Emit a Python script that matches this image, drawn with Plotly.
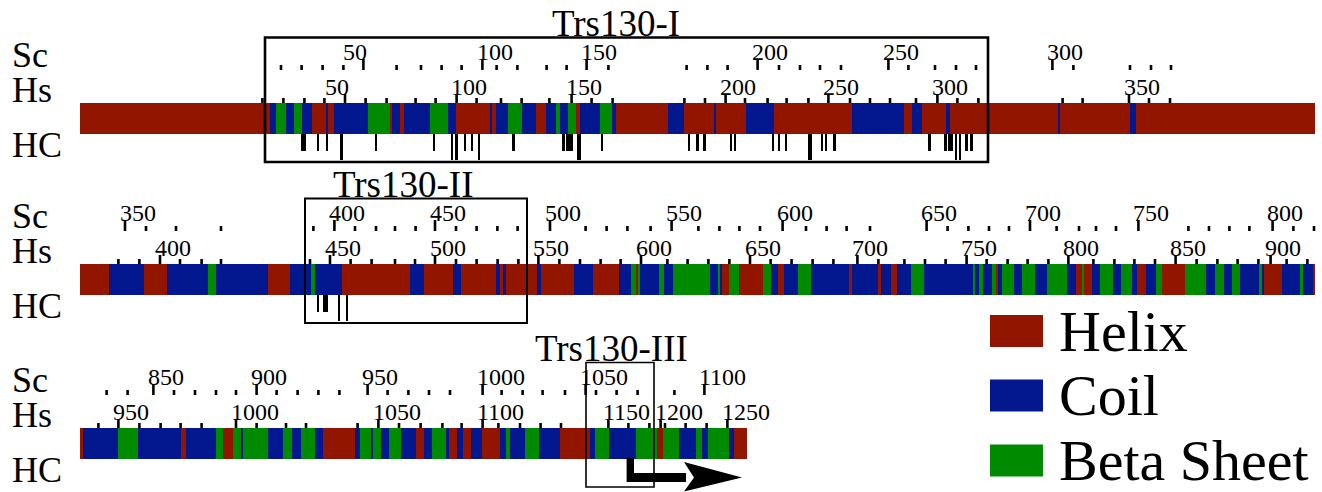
import plotly.graph_objects as go

# ---------------- data (alignment columns) ----------------
ROW_END = [617.5, 617.5, 333.5]

SS1_START = [0, 95, 98, 103, 107, 111, 116, 123, 124, 127, 144, 155, 156, 160, 162, 175, 184, 188, 205, 206,
             208, 214, 221, 228, 233, 238, 240, 244, 248, 250, 260, 266, 268, 294, 302, 317, 318, 333, 347, 386,
             412, 416, 421, 433, 435, 489, 490, 525, 528]
SS1_TYPE = list("HCECECHCHC" "EHCHCECHCH" "CECHCECEHC" "ECHCHCHCHC" "HCHCHCHCH")

SS2_START = [0, 14.5, 32, 43.5, 64, 68, 94, 105, 115.5, 117.5, 131, 165, 172, 186.5, 190.5, 208, 210, 211.5, 213, 228.5,
             230.5, 247, 256.5, 269.5, 275.5, 278, 279, 280, 289.5, 292, 296.5, 315, 319, 320, 321, 324.5, 329.5, 341.5, 345.5, 349,
             352, 359, 365.5, 384.5, 386, 399, 400.5, 405.5, 408.5, 415.5, 422, 446.5, 447.5, 449.5, 451.5, 456, 458, 459, 461, 467,
             471, 477.5, 483.5, 493.5, 498, 501, 502, 506, 510, 516.5, 520.5, 526, 528.5, 533, 538, 541, 552.5, 563, 567.5, 572,
             576, 580, 589.5, 591, 592, 601, 610, 611.5, 616.5]
SS2_TYPE = list("HCHCECHCEC" "HCHCHCHCHC" "HCHCEHECEC" "ECECHEHECH" "CECHCHCHCE"
                "CECECEHCEC" "ECECHEHCEC" "ECHCEHECEC" "ECECHCECH")

SS3_START = [0, 1.5, 19, 29, 50.5, 53, 68, 71.5, 76.5, 80.5, 81.5, 94, 101.5, 106, 110.5, 117.5, 121.5, 137.5, 140, 145.5,
             146.5, 150.5, 154.5, 160.5, 168, 172, 176, 183, 184.5, 188.5, 191.5, 195.5, 201, 210, 213, 215, 222.5, 229.5, 240, 255,
             257.5, 264.5, 278, 288.5, 291.5, 299.5, 308, 311, 314, 324.5, 327]
SS3_TYPE = list("HCECHCEHEC" "ECECECHCEC" "ECECHCECHC" "HCHCECECHC" "ECEHECECECH")

# HC marks: start column, width (columns), level (1 = short, 2 = long)
HC1_START = [110.5, 118.5, 123, 130, 147.5, 176.5, 185.5, 187.4, 192, 195.3, 199, 216, 241, 243, 248.3, 260.5, 304, 308,
             311.7, 325, 327, 346, 349.2, 352.5, 364.2, 370.4, 372.5, 376.7, 423.9, 432.2, 434.2, 437.5, 439.4, 442.5, 445]
HC1_WIDTH = [2.5, 1, 1, 1.5, 1, 1, 1.2, 1.6, 1, 1.3, 1, 1.3, 1.3, 3.3, 2, 1, 1, 1.3,
             1.3, 1, 1, 1, 1, 1, 1.7, 1.3, 1.2, 1.2, 1.5, 1.5, 2.5, 1.2, 1, 1.4, 1.4]
HC1_LEVEL = [1, 1, 1, 2, 1, 1, 2, 2, 1, 1, 2, 1, 1, 1, 2, 1, 1, 1,
             1, 1, 1, 1, 1, 1, 2, 1, 1, 1, 1, 1, 1, 2, 2, 1, 1]
HC2_START = [118.4, 121.4, 129.2, 133]
HC2_WIDTH = [1, 2.8, 1, 1]
HC2_LEVEL = [1, 1, 2, 2]
HC3_START, HC3_WIDTH, HC3_LEVEL = [], [], []

# Ruler ticks (alignment columns) for S. cerevisiae (Sc) and H. sapiens (Hs)
SC1_MINOR = [100.5, 110.8, 121.3, 131.7, 158.3, 170.5, 180.8, 190.8, 208.3, 218.7, 233.3, 243.3, 264.2, 303.3, 313.7,
             323.8, 349.5, 360, 370, 380.5, 414.2, 427.5, 438, 448, 496.7, 525, 535.5, 545.5]
SC1_MAJOR = [141.7, 201.2, 253.3, 338.8, 404.2, 486.2]
SC1_LABEL = ["50", "100", "150", "200", "250", "300"]
HS1_MINOR = [91.2, 101.7, 112.2, 122.2, 142.8, 153.3, 167.8, 177.8, 198.3, 210.5, 220.8, 234.7, 255.8, 266.3, 302.2,
             312.5, 332.5, 343.8, 353.3, 364.2, 385, 395, 405, 418, 438.7, 449.2, 491.3, 501.3, 534.5, 545]
HS1_MAJOR = [132.5, 188.3, 245.8, 322.8, 374.2, 428.7, 524.5]
HS1_LABEL = ["50", "100", "150", "200", "250", "300", "350"]

SC2_MINOR = [33, 48, 70.5, 116.7, 137.5, 148, 157.5, 167.8, 188, 198.3, 208.7, 218.8, 252.8, 263.3, 273.7, 285.3,
             309.2, 319.7, 329.7, 340, 363, 373.3, 383.3, 395, 433.8, 444.2, 454.5, 464.5, 488.3, 499.5, 508, 518,
             554.2, 564.5, 574.7, 584.7, 606.7, 617]
SC2_MAJOR = [22.5, 127.2, 177.5, 235, 295.8, 351.3, 423.3, 475, 529.2, 596.3]
SC2_LABEL = ["350", "400", "450", "500", "550", "600", "650", "700", "750", "800"]
HS2_MINOR = [19.2, 29.7, 50, 60.8, 70.5, 115, 135.3, 145.8, 157.5, 167.5, 188, 198.3, 208.8, 219.2, 239.7, 250, 260.3,
             270.3, 293.7, 303.8, 314.2, 324.7, 345.3, 355.8, 366.3, 376.7, 399.2, 412.2, 422.5, 432.8, 453.3, 463.8,
             473.8, 484.2, 506.7, 517.2, 527.2, 537.5, 558.3, 568.7, 578.8, 589.2, 603.3, 613.7]
HS2_MAJOR = [40, 125, 177.5, 229.2, 280.5, 335, 388.7, 443.3, 494.2, 547.8, 595.3]
HS2_LABEL = ["400", "450", "500", "550", "600", "650", "700", "750", "800", "850", "900"]

SC3_MINOR = [13.3, 23.8, 47, 57.5, 68, 78, 98.3, 108.8, 119.2, 129.7, 153.8, 164.2, 174.5, 185, 210.8, 221.3, 231.3,
             242.5, 258, 268.3, 278.8, 297.2]
SC3_MAJOR = [36.7, 88.3, 143.8, 201.3, 252.8, 312.2]
SC3_LABEL = ["850", "900", "950", "1000", "1050", "1100"]
HS3_MINOR = [9.2, 29.7, 40.3, 50.3, 60.8, 88.3, 103, 113, 138.8, 159.5, 170.3, 181.2, 190.8, 209.2, 220, 230.3, 240.5,
             274.2, 284.7, 292.5, 302.8, 313.3]
HS3_MAJOR = [19.2, 78, 149.2, 201.3, 264.2, 290.3, 323.7]
HS3_LABEL = ["950", "1000", "1050", "1100", "1150", "1200", "1250"]

# Trs130 domain boxes: (start column, end column, title)
DOMAINS = [(92.5, 454, "Trs130-I"), (112.5, 223.5, "Trs130-II"), (253, 287, "Trs130-III")]
DOMAIN_TITLE_X = [268, 161.5, 265.5]

LEGEND_KEYS = ["H", "C", "E"]
LEGEND_NAMES = ["Helix", "Coil", "Beta Sheet"]

# ---------------- style ----------------
COLORS = {"H": "#921500", "C": "#03188F", "E": "#008A00"}
FONT = "Liberation Serif, Times New Roman, serif"
W, H = 1322, 492
X0_PX, PX_PER_COL = 80, 2.0
ROW_BANDS = [(0, 165), (165, 330), (330, 492)]
BAR_TOPS = [103, 264, 428]
BAR_H = 30.5
HC_LEN = {1: 17, 2: 26.5}
BOX_LW = [2.6, 2.0, 1.6]

rows = [
    (SS1_START, SS1_TYPE, HC1_START, HC1_WIDTH, HC1_LEVEL, SC1_MINOR, SC1_MAJOR, SC1_LABEL, HS1_MINOR, HS1_MAJOR, HS1_LABEL),
    (SS2_START, SS2_TYPE, HC2_START, HC2_WIDTH, HC2_LEVEL, SC2_MINOR, SC2_MAJOR, SC2_LABEL, HS2_MINOR, HS2_MAJOR, HS2_LABEL),
    (SS3_START, SS3_TYPE, HC3_START, HC3_WIDTH, HC3_LEVEL, SC3_MINOR, SC3_MAJOR, SC3_LABEL, HS3_MINOR, HS3_MAJOR, HS3_LABEL),
]

fig = go.Figure()
annotations = []
shapes = []
layout_axes = {}
ncols = (W - X0_PX) / PX_PER_COL
xdom = [X0_PX / W, 1.0]


def tick_lines(pos, y0, y1):
    xs, ys = [], []
    for p in pos:
        xs += [p, p, None]
        ys += [y0, y1, None]
    return xs, ys


for i, (ss_s, ss_t, hc_s, hc_w, hc_l, scm, scM, scL, hsm, hsM, hsL) in enumerate(rows):
    assert len(ss_s) == len(ss_t)
    k = "" if i == 0 else str(i + 1)
    xa, ya = "x" + k, "y" + k
    band_top, band_bot = ROW_BANDS[i]
    top = BAR_TOPS[i]
    layout_axes["xaxis" + k] = dict(domain=xdom, range=[0, ncols], visible=False, fixedrange=True)
    layout_axes["yaxis" + k] = dict(domain=[1 - band_bot / H, 1 - band_top / H],
                                    range=[band_bot - top, band_top - top], visible=False, fixedrange=True)

    ends = list(ss_s[1:]) + [ROW_END[i]]
    lengths = [e - s for s, e in zip(ss_s, ends)]
    fig.add_trace(go.Bar(orientation="h", base=ss_s, x=lengths, y=[BAR_H / 2] * len(ss_s),
                         width=[BAR_H] * len(ss_s), marker=dict(color=[COLORS[t] for t in ss_t], line=dict(width=0)),
                         xaxis=xa, yaxis=ya, showlegend=False, hoverinfo="skip"))
    if hc_s:
        hl = [HC_LEN[l] for l in hc_l]
        fig.add_trace(go.Bar(orientation="h", base=hc_s, x=hc_w, y=[BAR_H + h / 2 for h in hl], width=hl,
                             marker=dict(color="black", line=dict(width=0)),
                             xaxis=xa, yaxis=ya, showlegend=False, hoverinfo="skip"))

    # rulers
    for minor, major, y_base, minor_len, major_len in [(scm, scM, -33, 5, 11), (hsm, hsM, 0, 5, 9)]:
        xs, ys = tick_lines(minor, y_base - minor_len, y_base)
        fig.add_trace(go.Scatter(x=xs, y=ys, mode="lines", line=dict(color="black", width=2.6),
                                 xaxis=xa, yaxis=ya, showlegend=False, hoverinfo="skip"))
        xs, ys = tick_lines(major, y_base - major_len, y_base)
        fig.add_trace(go.Scatter(x=xs, y=ys, mode="lines", line=dict(color="black", width=2.6),
                                 xaxis=xa, yaxis=ya, showlegend=False, hoverinfo="skip"))
    for pos, labs, yl in [(scM, scL, -51.5), (hsM, hsL, -16.3)]:
        for p, lab in zip(pos, labs):
            if len(lab) >= 3:
                xanchor, xshift = "left", -7.5
            else:
                xanchor, xshift = "right", 6
            annotations.append(dict(x=p, y=yl, xref=xa, yref=ya, text=lab, showarrow=False,
                                    xanchor=xanchor, yanchor="middle", xshift=xshift,
                                    font=dict(family=FONT, size=24, color="black")))

    # row labels
    for lab, yl in [("Sc", -48), ("Hs", -13), ("HC", 42)]:
        annotations.append(dict(x=10 / W, y=yl, xref="paper", yref=ya, text=lab, showarrow=False,
                                xanchor="left", yanchor="middle",
                                font=dict(family=FONT, size=36, color="black")))

    # domain box and title
    d0, d1, title = DOMAINS[i]
    shapes.append(dict(type="rect", xref=xa, yref=ya, x0=d0, x1=d1, y0=-65.5, y1=59,
                       line=dict(color="black", width=BOX_LW[i]), fillcolor="rgba(0,0,0,0)"))
    annotations.append(dict(x=DOMAIN_TITLE_X[i], y=-80, xref=xa, yref=ya, text=title, showarrow=False,
                            xanchor="center", yanchor="middle",
                            font=dict(family=FONT, size=37, color="black")))

# arrow in row 3
shapes.append(dict(type="path", xref="x3", yref="y3",
                   path="M 273.3,30 L 277,30 L 277,45 L 303,45 L 303,54 L 273.3,54 Z",
                   fillcolor="black", line=dict(width=0)))
shapes.append(dict(type="path", xref="x3", yref="y3",
                   path="M 302,34 L 331,49.5 L 302,63.5 L 307,49.5 Z",
                   fillcolor="black", line=dict(width=0)))

# legend
leg_y = [331, 395.5, 460.5]
for key, name, yc in zip(LEGEND_KEYS, LEGEND_NAMES, leg_y):
    shapes.append(dict(type="rect", xref="paper", yref="paper", x0=990 / W, x1=1043 / W,
                       y0=1 - (yc + 16) / H, y1=1 - (yc - 16) / H,
                       fillcolor=COLORS[key], line=dict(width=0)))
    annotations.append(dict(x=1057 / W, y=1 - yc / H, xref="paper", yref="paper", text=name, showarrow=False,
                            xanchor="left", yanchor="middle",
                            font=dict(family=FONT, size=58, color="black")))

fig.update_layout(width=W, height=H, margin=dict(l=0, r=0, t=0, b=0), paper_bgcolor="white",
                  plot_bgcolor="rgba(0,0,0,0)", barmode="overlay", bargap=0,
                  annotations=annotations, shapes=shapes, **layout_axes)
fig.write_html("out.html", config={"displayModeBar": False},
               post_script="document.body.style.margin='0px';")
